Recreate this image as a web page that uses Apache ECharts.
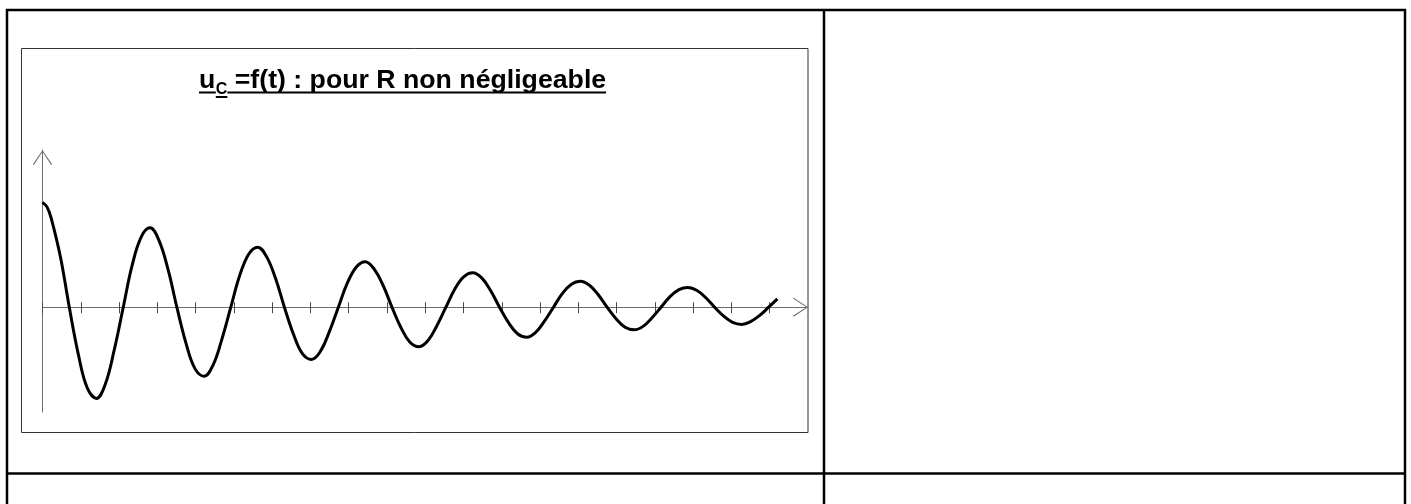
<!DOCTYPE html>
<html>
<head>
<meta charset="utf-8">
<script src="https://cdn.jsdelivr.net/npm/echarts@6/dist/echarts.min.js"></script>
<style>
html,body{margin:0;padding:0;background:#fff;}
#c{width:1411px;height:504px;}
</style>
</head>
<body>
<div id="c"></div>
<script>
// ---- data ----
const titleMain = 'u';
const titleSub = 'C';
const titleRest = ' =f(t) : pour R non négligeable';

const tValues = [0, 0.12, 0.23, 0.47, 0.70, 0.94, 1.17, 1.41, 1.64, 1.87, 2.11, 2.34, 2.58, 2.81,
  3.04, 3.28, 3.51, 3.75, 3.98, 4.22, 4.45, 4.68, 4.92, 5.15, 5.39, 5.62,
  5.85, 6.09, 6.32, 6.56, 6.79, 7.03, 7.26, 7.49, 7.73, 7.96, 8.20, 8.43,
  8.66, 8.90, 9.13, 9.37, 9.60, 9.84, 10.07, 10.30, 10.54, 10.77, 11.01, 11.24,
  11.48, 11.71, 11.94, 12.18, 12.41, 12.65, 12.88, 13.11, 13.35, 13.58, 13.82, 14.05,
  14.29, 14.52, 14.75, 14.99, 15.22, 15.46, 15.69, 15.92, 16.16, 16.39, 16.63, 16.86,
  17.10, 17.33, 17.56, 17.80, 18.03, 18.27, 18.50, 18.74, 18.97, 19.20];
const uValues = [1.000, 0.955, 0.846, 0.477, 0, -0.456, -0.771, -0.870, -0.736, -0.415, 0, 0.396, 0.671, 0.757,
  0.640, 0.361, 0, -0.345, -0.584, -0.659, -0.557, -0.314, 0, 0.300, 0.508, 0.573,
  0.485, 0.273, 0, -0.261, -0.442, -0.498, -0.422, -0.238, 0, 0.227, 0.384, 0.434,
  0.367, 0.207, 0, -0.198, -0.334, -0.377, -0.319, -0.180, 0, 0.172, 0.291, 0.328,
  0.278, 0.157, 0, -0.150, -0.253, -0.286, -0.242, -0.136, 0, 0.130, 0.220, 0.248,
  0.210, 0.119, 0, -0.113, -0.192, -0.216, -0.183, -0.103, 0, 0.099, 0.167, 0.188,
  0.159, 0.090, 0, -0.086, -0.145, -0.164, -0.138, -0.078, 0, 0.080];

const xTicks = [0,1,2,3,4,5,6,7,8,9,10,11,12,13,14,15,16,17,18,19];
const xMin = 0, xMax = 20;
const yMin = -1, yMax = 1.5;

// ---- layout ----
const W = 1411, H = 504;
const GRID = {left: 42.5, right: W - 808, top: 150, bottom: H - 412};
const axisColor = '#6e6e6e';
const tickColor = '#4a4a4a';
const arrowPath = 'path://M10,0L20,15L19,15.7L10,1.8L1,15.7L0,15Z';

const mainSize = 26.7, subSize = 16;
const titleFont = 'bold ' + mainSize + 'px "Liberation Sans", Arial, sans-serif';
const subFont = 'bold ' + subSize + 'px "Liberation Sans", Arial, sans-serif';
const titleX = 199, titleBase = 90, subBase = 95;

const ctx = document.createElement('canvas').getContext('2d');
function tw(txt, font){ ctx.font = font; return ctx.measureText(txt).width; }
const wMain = tw(titleMain, titleFont);
const wSub = tw(titleSub, subFont);
const wRest = tw(titleRest, titleFont);
const xSub = titleX + wMain + 0.5;
const xRest = xSub + wSub;
const xEnd = xRest + wRest;

const black = '#000';
const tableLines = [
  [6, 10, 1406, 10],
  [7, 9, 7, 504],
  [824, 9, 824, 504],
  [1405, 9, 1405, 504],
  [6, 473.5, 1406, 473.5]
];

const graphics = [];
tableLines.forEach(function(l){
  graphics.push({type:'line', shape:{x1:l[0], y1:l[1], x2:l[2], y2:l[3]}, style:{stroke:black, lineWidth:2.5}, silent:true});
});
graphics.push({type:'rect', shape:{x:21.5, y:48.5, width:786.5, height:384}, style:{fill:null, stroke:'#333', lineWidth:1}, silent:true});
// title texts
graphics.push({type:'text', x: titleX, y: titleBase + 0.15 * mainSize, style:{text: titleMain, font: titleFont, fill: black, align:'left', verticalAlign:'bottom'}, silent:true});
graphics.push({type:'text', x: xSub, y: subBase + 0.15 * subSize, style:{text: titleSub, font: subFont, fill: black, align:'left', verticalAlign:'bottom'}, silent:true});
graphics.push({type:'text', x: xRest, y: titleBase + 0.15 * mainSize, style:{text: titleRest, font: titleFont, fill: black, align:'left', verticalAlign:'bottom'}, silent:true});
// underlines
graphics.push({type:'line', shape:{x1:titleX, y1:titleBase+2.5, x2:xSub, y2:titleBase+2.5}, style:{stroke:black, lineWidth:2}, silent:true});
graphics.push({type:'line', shape:{x1:xSub, y1:subBase+2, x2:xRest, y2:subBase+2}, style:{stroke:black, lineWidth:2}, silent:true});
graphics.push({type:'line', shape:{x1:xRest, y1:titleBase+2.5, x2:xEnd, y2:titleBase+2.5}, style:{stroke:black, lineWidth:2}, silent:true});

const chart = echarts.init(document.getElementById('c'), null, {renderer:'canvas', width: W, height: H});
chart.setOption({
  animation: false,
  backgroundColor: '#fff',
  grid: Object.assign({outerBoundsMode: 'none', containLabel: false}, GRID),
  xAxis: [
    {
      type: 'value', min: xMin, max: xMax, interval: 1, position: 'bottom',
      axisLine: {show: true, onZero: true, onZeroAxisIndex: 0, lineStyle: {color: axisColor, width: 1},
                 symbol: ['none', arrowPath], symbolSize: [20, 15], symbolOffset: [0, -7.5]},
      axisTick: {show: true, length: 6, lineStyle: {color: tickColor, width: 1}, customValues: xTicks},
      axisLabel: {show: false}, splitLine: {show: false}
    },
    {
      type: 'value', min: xMin, max: xMax, interval: 1, position: 'top',
      axisLine: {show: true, onZero: true, onZeroAxisIndex: 1, lineStyle: {color: axisColor, width: 1, opacity: 0}},
      axisTick: {show: true, length: 5, lineStyle: {color: tickColor, width: 1}, customValues: xTicks},
      axisLabel: {show: false}, splitLine: {show: false}
    }
  ],
  yAxis: [
    {
      type: 'value', min: yMin, max: yMax, position: 'left',
      axisLine: {show: true, onZero: false, lineStyle: {color: axisColor, width: 1},
                 symbol: ['none', arrowPath], symbolSize: [20, 15], symbolOffset: [0, -7.5]},
      axisTick: {show: false}, axisLabel: {show: false}, splitLine: {show: false}
    },
    {
      type: 'value', min: yMin, max: yMax, position: 'left',
      axisLine: {show: false, onZero: false}, axisTick: {show: false}, axisLabel: {show: false}, splitLine: {show: false}
    }
  ],
  series: [{
    type: 'line',
    xAxisIndex: 0, yAxisIndex: 0,
    data: tValues.map(function(t, i){ return [t, uValues[i]]; }),
    smooth: 0.4,
    showSymbol: false,
    lineStyle: {color: black, width: 3},
    z: 5
  }],
  graphic: graphics
});
</script>
</body>
</html>
